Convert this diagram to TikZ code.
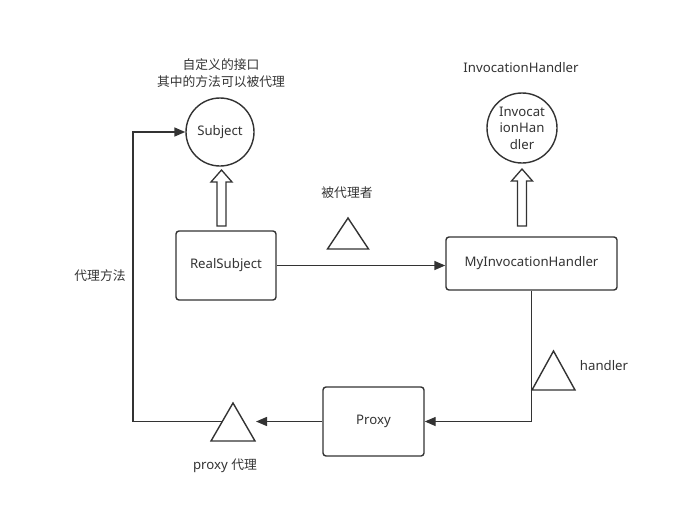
\documentclass[tikz,border=0pt]{standalone}
\usepackage{fontspec}
\setmainfont{Noto Sans}
\newfontfamily\cjk{Noto Sans CJK SC}
\usetikzlibrary{arrows.meta}
\definecolor{ink}{HTML}{333333}
\begin{document}
\begin{tikzpicture}[x=1pt, y=-1pt,
  every node/.style = {font=\fontsize{13.2}{16.5}\selectfont, text=ink, align=center},
  han/.style = {font=\fontsize{12.8}{16.5}\selectfont\cjk},
  box/.style = {shape=rectangle, rounded corners=3pt, draw=ink, line width=1.4pt},
  ball/.style = {shape=circle, draw=ink, line width=1.4pt, minimum size=68pt, inner sep=0pt},
  tri/.style = {draw=ink, fill=white, line width=1.4pt, line join=miter},
  hollow/.style = {draw=ink, fill=white, line width=1.3pt, line join=miter},
  link/.style = {draw=ink, line width=1.4pt, -{Triangle[length=11pt,width=9pt]}}]
  \useasboundingbox (0,0) rectangle (674,511);

  % interfaces
  \node[ball] (subj) at (220,132) {Subject};
  \node[han] (subjnote) at (221,73) {自定义的接口\\其中的方法可以被代理};
  \node[ball, minimum size=70pt] (ih) at (522,128) {Invocat\\ionHan\\dler};
  \node (ihnote) at (521,68) {InvocationHandler};

  % classes
  \node[box, minimum width=100pt, minimum height=69pt] (real) at (226,265.5) {RealSubject};
  \node[box, minimum width=171pt, minimum height=53pt] (myih) at (531.5,263.5) {MyInvocationHandler};
  \node[box, minimum width=101pt, minimum height=69pt] (proxy) at (373.5,421.5) {Proxy};

  % implements
  \foreach \cx/\tipy in {221.5/170, 522/169}
    \draw[hollow] (\cx-4.5,226) -- (\cx-4.5,\tipy+12) -- (\cx-10.5,\tipy+12) -- (\cx,\tipy)
      -- (\cx+10.5,\tipy+12) -- (\cx+4.5,\tipy+12) -- (\cx+4.5,226) -- cycle;

  % calls
  \coordinate (ptip) at (256,421.5);
  \coordinate (pmid) at (233,421.5);
  \coordinate (bend) at (133,421.5);
  \draw[link] (real.east) -- (real.east -| myih.west);
  \draw[link] (myih.south) |- (proxy.east);
  \draw[link] (proxy.west) -- (ptip);
  \draw[link] (pmid) -- (bend) |- (subj.west);

  % markers
  \draw[tri] (348,218) -- (368.5,249) -- (327.5,249) -- cycle;
  \draw[tri] (553.5,351) -- (575,390) -- (532,390) -- cycle;
  \draw[tri] (233,403) -- (255,441) -- (211,441) -- cycle;

  % labels
  \node[han] (realnote) at (347,193) {被代理者};
  \node (handnote) at (604,366) {handler};
  \node[han] (callnote) at (100,276) {代理方法};
  \node (proxynote) at (225,466) {proxy {\cjk\fontsize{12.8}{16.5}\selectfont 代理}};
\end{tikzpicture}
\end{document}
